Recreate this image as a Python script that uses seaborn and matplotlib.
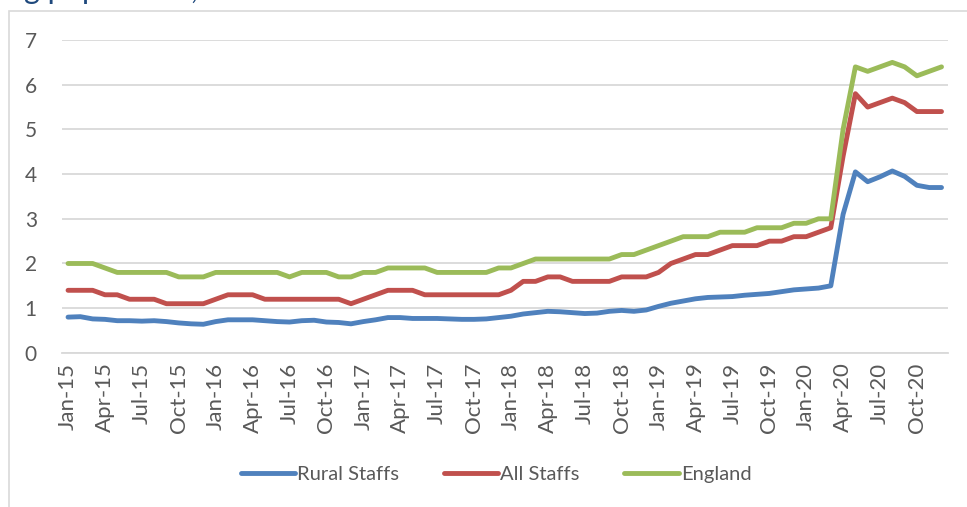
import matplotlib.pyplot as plt
import matplotlib.patches as mpatches
import pandas as pd
import seaborn as sns

# Monthly values, Jan-15 .. Dec-20 (72 months)
months = pd.date_range("2015-01-01", periods=72, freq="MS")
month_labels = [d.strftime("%b-%y") for d in months]

rural = [0.80, 0.81, 0.76, 0.75, 0.72, 0.72, 0.71, 0.72, 0.70, 0.67, 0.65, 0.64,
         0.70, 0.74, 0.74, 0.74, 0.72, 0.70, 0.69, 0.72, 0.73, 0.69, 0.68, 0.65,
         0.70, 0.74, 0.79, 0.79, 0.77, 0.77, 0.77, 0.76, 0.75, 0.75, 0.76, 0.79,
         0.82, 0.87, 0.90, 0.93, 0.92, 0.90, 0.88, 0.89, 0.93, 0.95, 0.93, 0.96,
         1.04, 1.11, 1.16, 1.21, 1.24, 1.25, 1.26, 1.29, 1.31, 1.33, 1.37, 1.41,
         1.43, 1.45, 1.50, 3.10, 4.05, 3.83, 3.94, 4.07, 3.95, 3.75, 3.70, 3.70]
all_staffs = [1.4, 1.4, 1.4, 1.3, 1.3, 1.2, 1.2, 1.2, 1.1, 1.1, 1.1, 1.1,
              1.2, 1.3, 1.3, 1.3, 1.2, 1.2, 1.2, 1.2, 1.2, 1.2, 1.2, 1.1,
              1.2, 1.3, 1.4, 1.4, 1.4, 1.3, 1.3, 1.3, 1.3, 1.3, 1.3, 1.3,
              1.4, 1.6, 1.6, 1.7, 1.7, 1.6, 1.6, 1.6, 1.6, 1.7, 1.7, 1.7,
              1.8, 2.0, 2.1, 2.2, 2.2, 2.3, 2.4, 2.4, 2.4, 2.5, 2.5, 2.6,
              2.6, 2.7, 2.8, 4.4, 5.8, 5.5, 5.6, 5.7, 5.6, 5.4, 5.4, 5.4]
england = [2.0, 2.0, 2.0, 1.9, 1.8, 1.8, 1.8, 1.8, 1.8, 1.7, 1.7, 1.7,
           1.8, 1.8, 1.8, 1.8, 1.8, 1.8, 1.7, 1.8, 1.8, 1.8, 1.7, 1.7,
           1.8, 1.8, 1.9, 1.9, 1.9, 1.9, 1.8, 1.8, 1.8, 1.8, 1.8, 1.9,
           1.9, 2.0, 2.1, 2.1, 2.1, 2.1, 2.1, 2.1, 2.1, 2.2, 2.2, 2.3,
           2.4, 2.5, 2.6, 2.6, 2.6, 2.7, 2.7, 2.7, 2.8, 2.8, 2.8, 2.9,
           2.9, 3.0, 3.0, 5.0, 6.4, 6.3, 6.4, 6.5, 6.4, 6.2, 6.3, 6.4]

series_names = ["Rural Staffs", "All Staffs", "England"]
colors = ["#4F81BD", "#C0504D", "#9BBB59"]

df = pd.DataFrame({"month": range(len(months)),
                   "Rural Staffs": rural,
                   "All Staffs": all_staffs,
                   "England": england})
df = df.melt(id_vars="month", var_name="series", value_name="value")

sns.set_theme(style="white")
plt.rcParams["font.family"] = ["Lato", "DejaVu Sans"]

grey = "#D9D9D9"
text_grey = "#595959"

fig = plt.figure(figsize=(9.67, 5.07), dpi=100)
ax = fig.add_axes([0.064, 0.304, 0.916, 0.617])

sns.lineplot(data=df, x="month", y="value", hue="series", hue_order=series_names,
             palette=colors, linewidth=3.5, legend=False, ax=ax)
for line in ax.lines:
    line.set_solid_capstyle("round")
    line.set_solid_joinstyle("round")

ax.set_xlim(-0.5, 71.5)
ax.set_ylim(0, 7)
ax.set_yticks(range(0, 8))
ax.set_xticks(range(0, 72, 3))
ax.set_xticklabels(month_labels[::3], rotation=90)
ax.set_xticks([i - 0.5 for i in range(0, 73, 3)], minor=True)
ax.tick_params(axis="x", which="major", length=0, pad=7, labelsize=16, labelcolor=text_grey)
ax.tick_params(axis="x", which="minor", length=6, width=1.2, color=grey)
ax.tick_params(axis="y", length=0, pad=18, labelsize=15, labelcolor=text_grey)
ax.set_xlabel("")
ax.set_ylabel("")

ax.yaxis.grid(True, color=grey, linewidth=1.3)
ax.set_axisbelow(True)
for side in ["top", "right", "left"]:
    ax.spines[side].set_visible(False)
ax.spines["bottom"].set_color(grey)
ax.spines["bottom"].set_linewidth(1.3)

ax.legend(handles=ax.lines[:3], labels=series_names, loc="center", ncol=3,
          bbox_to_anchor=(0.513, 0.065), bbox_transform=fig.transFigure,
          frameon=False, fontsize=14.5, handlelength=2.7, handletextpad=0.12,
          columnspacing=2.2, labelcolor=text_grey)

# chart area border (cut off at the right and bottom)
fig.patches.append(mpatches.Rectangle((9 / 967, -0.05), 1.1, 1.05 - 11 / 507,
                                      transform=fig.transFigure, fill=False,
                                      edgecolor=grey, linewidth=1.2))

# title, mostly cropped out of the top of the picture (as in the reference)
fig.text(24 / 967, 1 + 1 / 507, "g population,", color="#1F497D", fontsize=22,
         ha="left", va="baseline")

fig.savefig("out.png", dpi=100)
